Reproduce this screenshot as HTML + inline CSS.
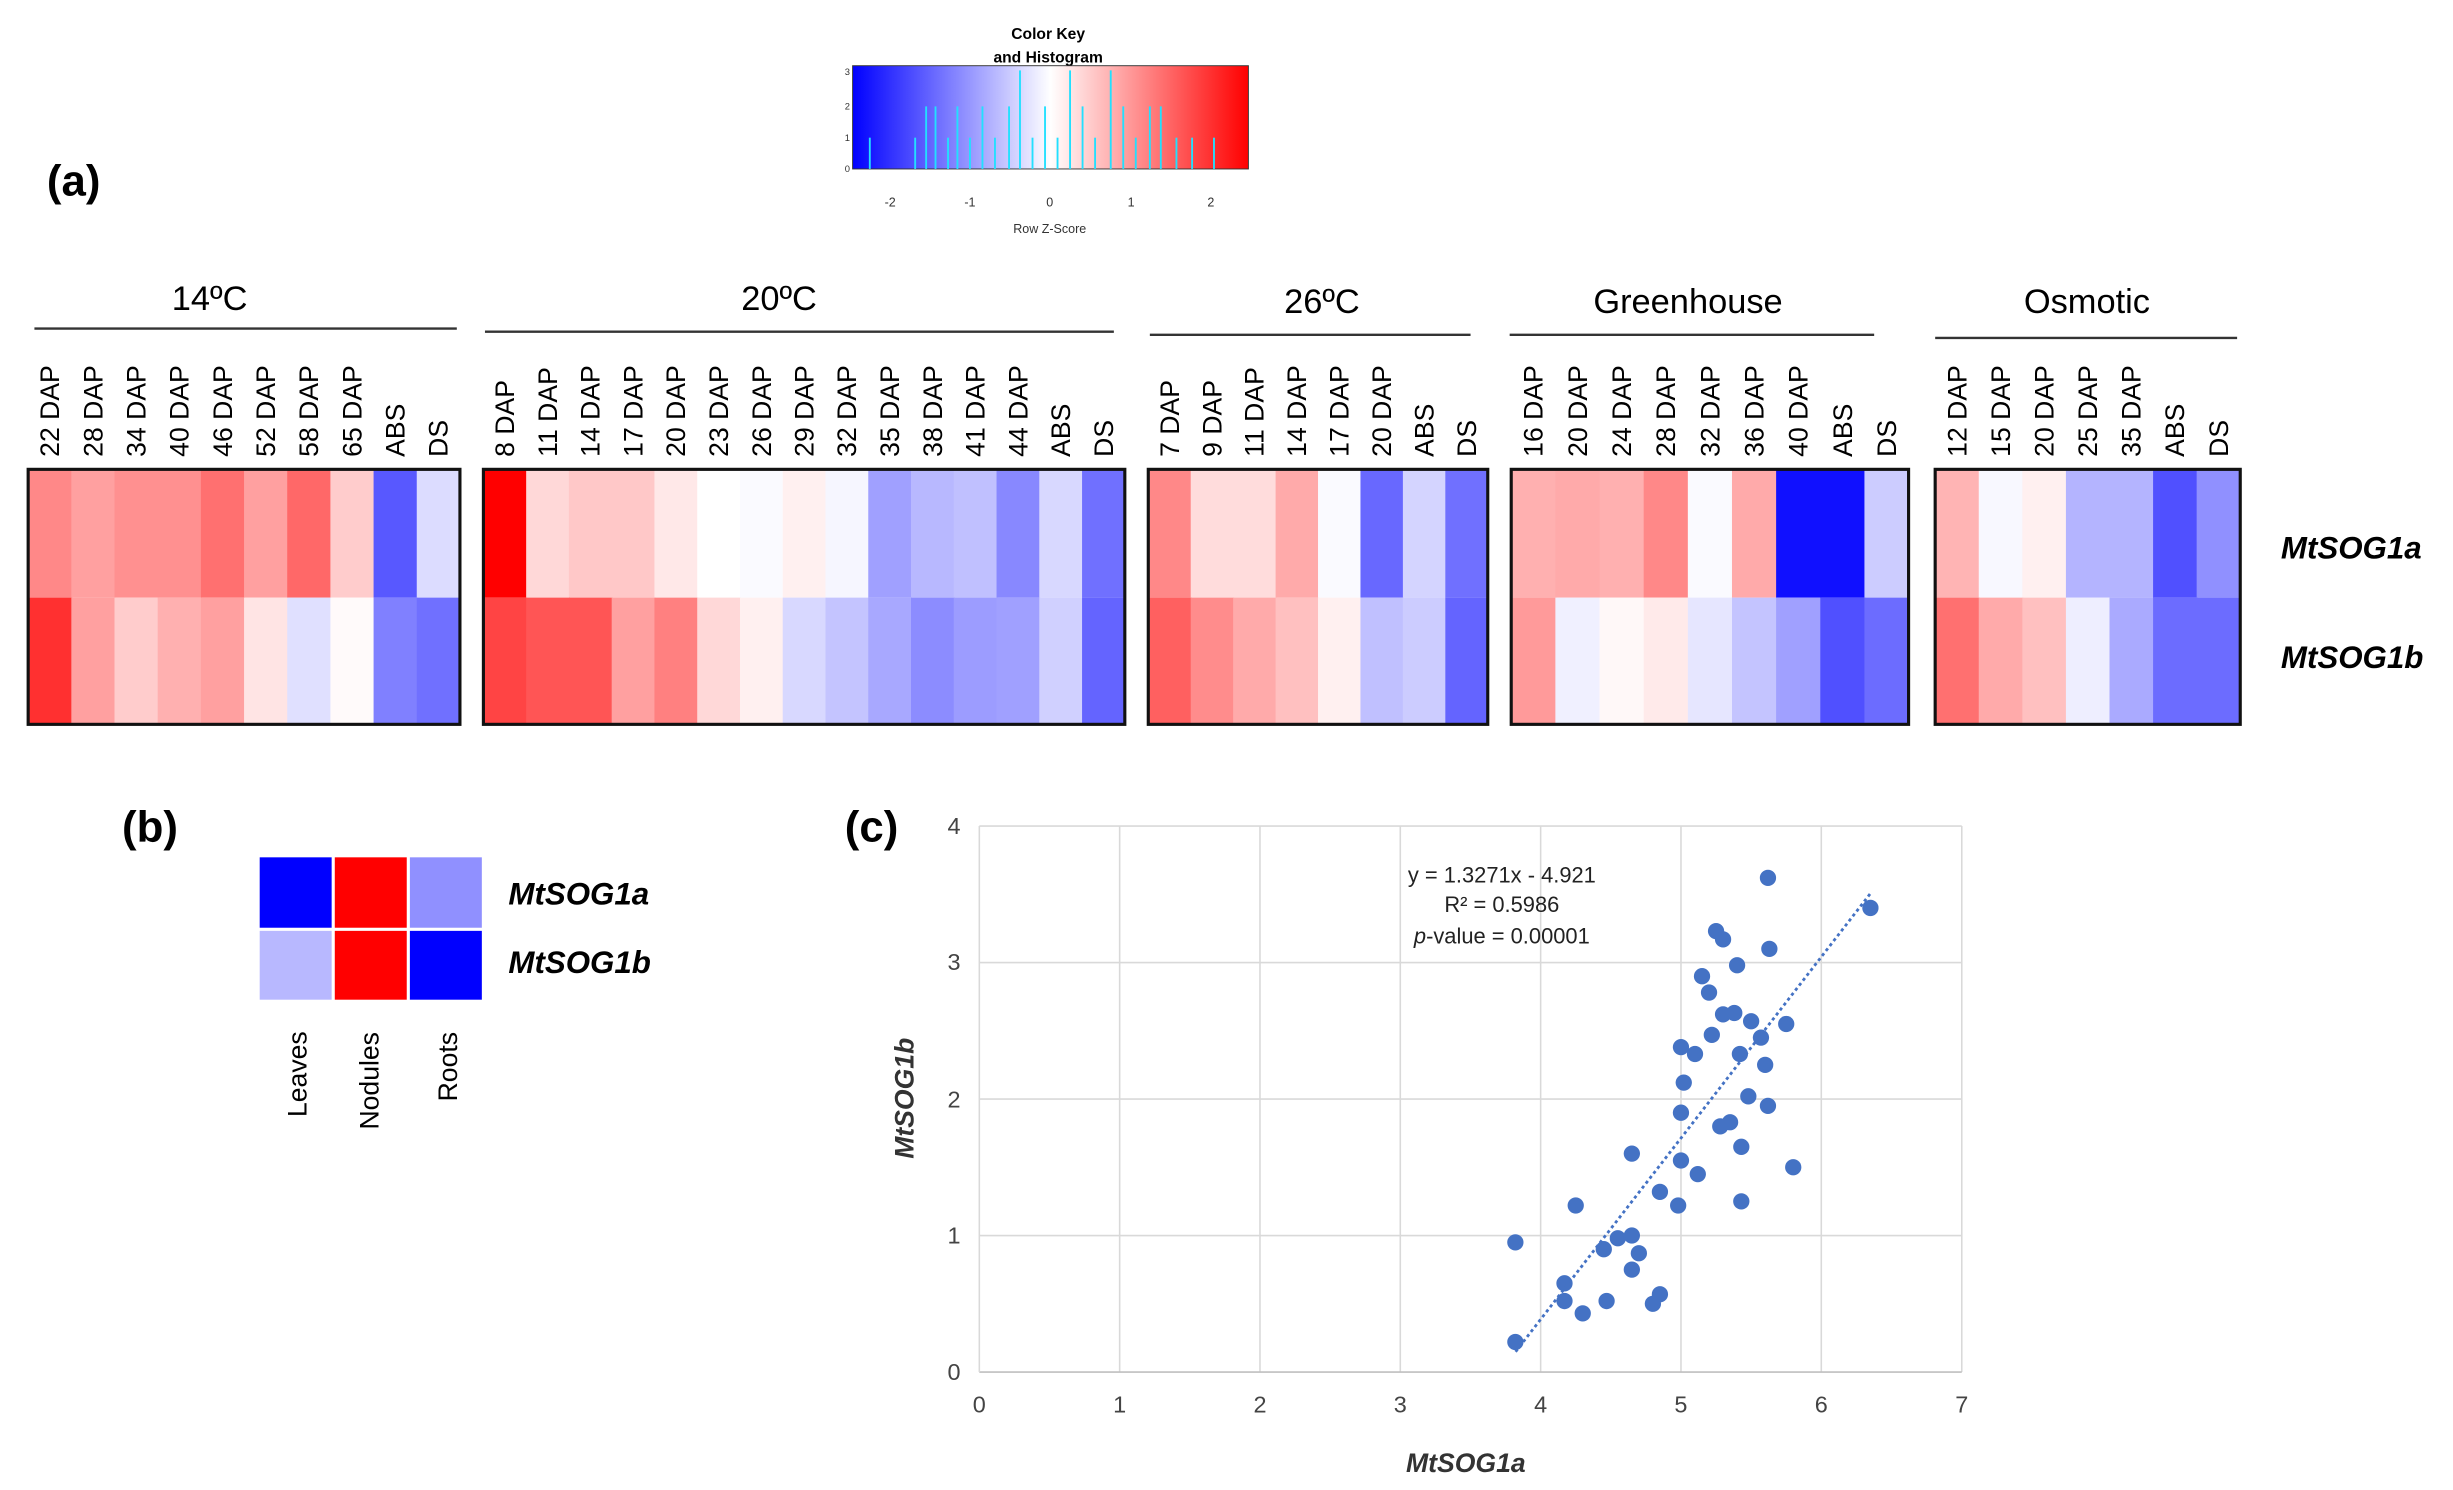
<!DOCTYPE html>
<html><head><meta charset="utf-8"><style>html,body{margin:0;padding:0;background:#fff}svg{display:block}text{font-family:"Liberation Sans",sans-serif}</style></head>
<body>
<svg width="2453" height="1490" viewBox="0 0 1568 952.4" preserveAspectRatio="none" xmlns="http://www.w3.org/2000/svg">
<defs>
<linearGradient id="ck" x1="0" x2="1"><stop offset="0" stop-color="#0000ff"/><stop offset="0.5" stop-color="#ffffff"/><stop offset="1" stop-color="#ff0000"/></linearGradient>
</defs>
<text x="670" y="25" font-size="10" font-weight="bold" text-anchor="middle">Color Key</text>
<text x="670" y="40" font-size="10" font-weight="bold" text-anchor="middle">and Histogram</text>
<rect x="545" y="42" width="253" height="66" fill="url(#ck)" stroke="#333" stroke-width="0.6"/>
<g stroke="#22e0ff" stroke-width="1.2">
<line x1="556" y1="108" x2="556" y2="88"/><line x1="585" y1="108" x2="585" y2="88"/><line x1="592" y1="108" x2="592" y2="68"/><line x1="598" y1="108" x2="598" y2="68"/><line x1="606" y1="108" x2="606" y2="88"/><line x1="612" y1="108" x2="612" y2="68"/><line x1="620" y1="108" x2="620" y2="88"/><line x1="628" y1="108" x2="628" y2="68"/><line x1="636" y1="108" x2="636" y2="88"/><line x1="645" y1="108" x2="645" y2="68"/><line x1="652" y1="108" x2="652" y2="45"/><line x1="660" y1="108" x2="660" y2="88"/><line x1="668" y1="108" x2="668" y2="68"/><line x1="676" y1="108" x2="676" y2="88"/><line x1="684" y1="108" x2="684" y2="45"/><line x1="692" y1="108" x2="692" y2="68"/><line x1="700" y1="108" x2="700" y2="88"/><line x1="710" y1="108" x2="710" y2="45"/><line x1="718" y1="108" x2="718" y2="68"/><line x1="726" y1="108" x2="726" y2="88"/><line x1="735" y1="108" x2="735" y2="68"/><line x1="742" y1="108" x2="742" y2="68"/><line x1="752" y1="108" x2="752" y2="88"/><line x1="762" y1="108" x2="762" y2="88"/><line x1="776" y1="108" x2="776" y2="88"/>
</g>
<g font-size="8" text-anchor="middle" fill="#333"><text x="569" y="132">-2</text><text x="620" y="132">-1</text><text x="671" y="132">0</text><text x="723" y="132">1</text><text x="774" y="132">2</text><text x="671" y="149">Row Z-Score</text></g>
<g font-size="6" fill="#333"><text x="540" y="110">0</text><text x="540" y="90">1</text><text x="540" y="70">2</text><text x="540" y="48">3</text></g>
<text x="30" y="125" font-size="28" font-weight="bold">(a)</text>
<text x="78" y="538" font-size="28" font-weight="bold">(b)</text>
<text x="540" y="538" font-size="28" font-weight="bold">(c)</text>
<g font-size="22" text-anchor="middle"><text x="134" y="198">14ºC</text><text x="498" y="198">20ºC</text><text x="845" y="200">26ºC</text><text x="1079" y="200">Greenhouse</text><text x="1334" y="200">Osmotic</text></g>
<g stroke="#333" stroke-width="1.5"><line x1="22" y1="210" x2="292" y2="210"/><line x1="310" y1="212" x2="712" y2="212"/><line x1="735" y1="214" x2="940" y2="214"/><line x1="965" y1="214" x2="1198" y2="214"/><line x1="1237" y1="216" x2="1430" y2="216"/></g>

<g>
<rect x="18" y="300" width="28.2" height="82" fill="#ff8888"/><rect x="18" y="382" width="28.2" height="81" fill="#ff3030"/>
<rect x="45.6" y="300" width="28.2" height="82" fill="#ffa0a0"/><rect x="45.6" y="382" width="28.2" height="81" fill="#ffa0a0"/>
<rect x="73.2" y="300" width="28.2" height="82" fill="#ff9090"/><rect x="73.2" y="382" width="28.2" height="81" fill="#ffcccc"/>
<rect x="100.8" y="300" width="28.2" height="82" fill="#ff9090"/><rect x="100.8" y="382" width="28.2" height="81" fill="#ffb0b0"/>
<rect x="128.4" y="300" width="28.2" height="82" fill="#ff7070"/><rect x="128.4" y="382" width="28.2" height="81" fill="#ffa0a0"/>
<rect x="156" y="300" width="28.2" height="82" fill="#ffa0a0"/><rect x="156" y="382" width="28.2" height="81" fill="#ffe4e4"/>
<rect x="183.6" y="300" width="28.2" height="82" fill="#ff6868"/><rect x="183.6" y="382" width="28.2" height="81" fill="#e0e0ff"/>
<rect x="211.2" y="300" width="28.2" height="82" fill="#ffcccc"/><rect x="211.2" y="382" width="28.2" height="81" fill="#fffafa"/>
<rect x="238.8" y="300" width="28.2" height="82" fill="#5858ff"/><rect x="238.8" y="382" width="28.2" height="81" fill="#8080ff"/>
<rect x="266.4" y="300" width="27.6" height="82" fill="#dcdcff"/><rect x="266.4" y="382" width="27.6" height="81" fill="#7070ff"/>
<rect x="18" y="300" width="276" height="163" fill="none" stroke="#111" stroke-width="2"/>
</g>
<g font-size="17">
<text transform="translate(37.8,292) rotate(-90)">22 DAP</text><text transform="translate(65.4,292) rotate(-90)">28 DAP</text><text transform="translate(93,292) rotate(-90)">34 DAP</text><text transform="translate(120.6,292) rotate(-90)">40 DAP</text><text transform="translate(148.2,292) rotate(-90)">46 DAP</text><text transform="translate(175.8,292) rotate(-90)">52 DAP</text><text transform="translate(203.4,292) rotate(-90)">58 DAP</text><text transform="translate(231,292) rotate(-90)">65 DAP</text><text transform="translate(258.6,292) rotate(-90)">ABS</text><text transform="translate(286.2,292) rotate(-90)">DS</text>
</g>

<g>
<rect x="309" y="300" width="28" height="82" fill="#ff0000"/><rect x="309" y="382" width="28" height="81" fill="#ff4444"/>
<rect x="336.33" y="300" width="28" height="82" fill="#ffd8d8"/><rect x="336.33" y="382" width="28" height="81" fill="#ff5555"/>
<rect x="363.67" y="300" width="28" height="82" fill="#ffc8c8"/><rect x="363.67" y="382" width="28" height="81" fill="#ff5555"/>
<rect x="391" y="300" width="28" height="82" fill="#ffc8c8"/><rect x="391" y="382" width="28" height="81" fill="#ffa0a0"/>
<rect x="418.33" y="300" width="28" height="82" fill="#ffe8e8"/><rect x="418.33" y="382" width="28" height="81" fill="#ff8080"/>
<rect x="445.67" y="300" width="28" height="82" fill="#ffffff"/><rect x="445.67" y="382" width="28" height="81" fill="#ffd8d8"/>
<rect x="473" y="300" width="28" height="82" fill="#fafaff"/><rect x="473" y="382" width="28" height="81" fill="#fff0f0"/>
<rect x="500.33" y="300" width="28" height="82" fill="#fff0f0"/><rect x="500.33" y="382" width="28" height="81" fill="#d8d8ff"/>
<rect x="527.67" y="300" width="28" height="82" fill="#f6f6ff"/><rect x="527.67" y="382" width="28" height="81" fill="#c4c4ff"/>
<rect x="555" y="300" width="28" height="82" fill="#a0a0ff"/><rect x="555" y="382" width="28" height="81" fill="#a8a8ff"/>
<rect x="582.33" y="300" width="28" height="82" fill="#b8b8ff"/><rect x="582.33" y="382" width="28" height="81" fill="#8c8cff"/>
<rect x="609.67" y="300" width="28" height="82" fill="#c0c0ff"/><rect x="609.67" y="382" width="28" height="81" fill="#9c9cff"/>
<rect x="637" y="300" width="28" height="82" fill="#8888ff"/><rect x="637" y="382" width="28" height="81" fill="#a0a0ff"/>
<rect x="664.33" y="300" width="28" height="82" fill="#d8d8ff"/><rect x="664.33" y="382" width="28" height="81" fill="#d0d0ff"/>
<rect x="691.67" y="300" width="27.33" height="82" fill="#7070ff"/><rect x="691.67" y="382" width="27.33" height="81" fill="#6464ff"/>
<rect x="309" y="300" width="410" height="163" fill="none" stroke="#111" stroke-width="2"/>
</g>
<g font-size="17">
<text transform="translate(328.7,292) rotate(-90)">8 DAP</text><text transform="translate(356,292) rotate(-90)">11 DAP</text><text transform="translate(383.3,292) rotate(-90)">14 DAP</text><text transform="translate(410.7,292) rotate(-90)">17 DAP</text><text transform="translate(438,292) rotate(-90)">20 DAP</text><text transform="translate(465.3,292) rotate(-90)">23 DAP</text><text transform="translate(492.7,292) rotate(-90)">26 DAP</text><text transform="translate(520,292) rotate(-90)">29 DAP</text><text transform="translate(547.3,292) rotate(-90)">32 DAP</text><text transform="translate(574.7,292) rotate(-90)">35 DAP</text><text transform="translate(602,292) rotate(-90)">38 DAP</text><text transform="translate(629.3,292) rotate(-90)">41 DAP</text><text transform="translate(656.7,292) rotate(-90)">44 DAP</text><text transform="translate(684,292) rotate(-90)">ABS</text><text transform="translate(711.3,292) rotate(-90)">DS</text>
</g>

<g>
<rect x="734" y="300" width="27.8" height="82" fill="#ff8888"/><rect x="734" y="382" width="27.8" height="81" fill="#ff6060"/>
<rect x="761.13" y="300" width="27.8" height="82" fill="#ffdcdc"/><rect x="761.13" y="382" width="27.8" height="81" fill="#ff8c8c"/>
<rect x="788.25" y="300" width="27.8" height="82" fill="#ffdcdc"/><rect x="788.25" y="382" width="27.8" height="81" fill="#ffaaaa"/>
<rect x="815.38" y="300" width="27.8" height="82" fill="#ffaaaa"/><rect x="815.38" y="382" width="27.8" height="81" fill="#ffc0c0"/>
<rect x="842.5" y="300" width="27.8" height="82" fill="#fafaff"/><rect x="842.5" y="382" width="27.8" height="81" fill="#fff0f0"/>
<rect x="869.63" y="300" width="27.8" height="82" fill="#6868ff"/><rect x="869.63" y="382" width="27.8" height="81" fill="#c0c0ff"/>
<rect x="896.75" y="300" width="27.8" height="82" fill="#d4d4ff"/><rect x="896.75" y="382" width="27.8" height="81" fill="#ccccff"/>
<rect x="923.88" y="300" width="27.12" height="82" fill="#7070ff"/><rect x="923.88" y="382" width="27.12" height="81" fill="#6464ff"/>
<rect x="734" y="300" width="217" height="163" fill="none" stroke="#111" stroke-width="2"/>
</g>
<g font-size="17">
<text transform="translate(753.6,292) rotate(-90)">7 DAP</text><text transform="translate(780.7,292) rotate(-90)">9 DAP</text><text transform="translate(807.8,292) rotate(-90)">11 DAP</text><text transform="translate(834.9,292) rotate(-90)">14 DAP</text><text transform="translate(862.1,292) rotate(-90)">17 DAP</text><text transform="translate(889.2,292) rotate(-90)">20 DAP</text><text transform="translate(916.3,292) rotate(-90)">ABS</text><text transform="translate(943.4,292) rotate(-90)">DS</text>
</g>

<g>
<rect x="966" y="300" width="28.9" height="82" fill="#ffb0b0"/><rect x="966" y="382" width="28.9" height="81" fill="#ff9a9a"/>
<rect x="994.22" y="300" width="28.9" height="82" fill="#ffaaaa"/><rect x="994.22" y="382" width="28.9" height="81" fill="#f0f0ff"/>
<rect x="1022.44" y="300" width="28.9" height="82" fill="#ffb0b0"/><rect x="1022.44" y="382" width="28.9" height="81" fill="#fff8f8"/>
<rect x="1050.67" y="300" width="28.9" height="82" fill="#ff8888"/><rect x="1050.67" y="382" width="28.9" height="81" fill="#ffeaea"/>
<rect x="1078.89" y="300" width="28.9" height="82" fill="#fafaff"/><rect x="1078.89" y="382" width="28.9" height="81" fill="#e6e6ff"/>
<rect x="1107.11" y="300" width="28.9" height="82" fill="#ffaaaa"/><rect x="1107.11" y="382" width="28.9" height="81" fill="#c4c4ff"/>
<rect x="1135.33" y="300" width="28.9" height="82" fill="#1010ff"/><rect x="1135.33" y="382" width="28.9" height="81" fill="#a0a0ff"/>
<rect x="1163.56" y="300" width="28.9" height="82" fill="#1010ff"/><rect x="1163.56" y="382" width="28.9" height="81" fill="#5050ff"/>
<rect x="1191.78" y="300" width="28.22" height="82" fill="#ccccff"/><rect x="1191.78" y="382" width="28.22" height="81" fill="#6c6cff"/>
<rect x="966" y="300" width="254" height="163" fill="none" stroke="#111" stroke-width="2"/>
</g>
<g font-size="17">
<text transform="translate(986.1,292) rotate(-90)">16 DAP</text><text transform="translate(1014.3,292) rotate(-90)">20 DAP</text><text transform="translate(1042.6,292) rotate(-90)">24 DAP</text><text transform="translate(1070.8,292) rotate(-90)">28 DAP</text><text transform="translate(1099,292) rotate(-90)">32 DAP</text><text transform="translate(1127.2,292) rotate(-90)">36 DAP</text><text transform="translate(1155.4,292) rotate(-90)">40 DAP</text><text transform="translate(1183.7,292) rotate(-90)">ABS</text><text transform="translate(1211.9,292) rotate(-90)">DS</text>
</g>

<g>
<rect x="1237" y="300" width="28.5" height="82" fill="#ffb4b4"/><rect x="1237" y="382" width="28.5" height="81" fill="#ff7070"/>
<rect x="1264.86" y="300" width="28.5" height="82" fill="#f8f8ff"/><rect x="1264.86" y="382" width="28.5" height="81" fill="#ffaaaa"/>
<rect x="1292.71" y="300" width="28.5" height="82" fill="#fff0f0"/><rect x="1292.71" y="382" width="28.5" height="81" fill="#ffc0c0"/>
<rect x="1320.57" y="300" width="28.5" height="82" fill="#b4b4ff"/><rect x="1320.57" y="382" width="28.5" height="81" fill="#eeeeff"/>
<rect x="1348.43" y="300" width="28.5" height="82" fill="#b4b4ff"/><rect x="1348.43" y="382" width="28.5" height="81" fill="#aaaaff"/>
<rect x="1376.29" y="300" width="28.5" height="82" fill="#5050ff"/><rect x="1376.29" y="382" width="28.5" height="81" fill="#6c6cff"/>
<rect x="1404.14" y="300" width="27.86" height="82" fill="#9090ff"/><rect x="1404.14" y="382" width="27.86" height="81" fill="#6c6cff"/>
<rect x="1237" y="300" width="195" height="163" fill="none" stroke="#111" stroke-width="2"/>
</g>
<g font-size="17">
<text transform="translate(1256.9,292) rotate(-90)">12 DAP</text><text transform="translate(1284.8,292) rotate(-90)">15 DAP</text><text transform="translate(1312.6,292) rotate(-90)">20 DAP</text><text transform="translate(1340.5,292) rotate(-90)">25 DAP</text><text transform="translate(1368.4,292) rotate(-90)">35 DAP</text><text transform="translate(1396.2,292) rotate(-90)">ABS</text><text transform="translate(1424.1,292) rotate(-90)">DS</text>
</g>

<text x="1458" y="357" font-size="20" font-weight="bold" font-style="italic">MtSOG1a</text>
<text x="1458" y="427" font-size="20" font-weight="bold" font-style="italic">MtSOG1b</text>

<rect x="166" y="548" width="46" height="45" fill="#0000ff"/><rect x="214" y="548" width="46" height="45" fill="#ff0000"/><rect x="262" y="548" width="46" height="45" fill="#9090ff"/>
<rect x="166" y="595" width="46" height="44" fill="#b8b8ff"/><rect x="214" y="595" width="46" height="44" fill="#ff0000"/><rect x="262" y="595" width="46" height="44" fill="#0000ff"/>
<text x="325" y="578" font-size="20" font-weight="bold" font-style="italic">MtSOG1a</text>
<text x="325" y="622" font-size="20" font-weight="bold" font-style="italic">MtSOG1b</text>
<g font-size="17"><text transform="translate(196,714) rotate(-90)">Leaves</text><text transform="translate(242,722) rotate(-90)">Nodules</text><text transform="translate(292,704) rotate(-90)">Roots</text></g>

<g stroke="#d9d9d9" stroke-width="1">
<line x1="626" y1="528" x2="1254" y2="528"/><line x1="626" y1="615.25" x2="1254" y2="615.25"/><line x1="626" y1="702.5" x2="1254" y2="702.5"/><line x1="626" y1="789.75" x2="1254" y2="789.75"/>
<line x1="715.7" y1="528" x2="715.7" y2="877"/><line x1="805.4" y1="528" x2="805.4" y2="877"/><line x1="895.1" y1="528" x2="895.1" y2="877"/><line x1="984.8" y1="528" x2="984.8" y2="877"/><line x1="1074.5" y1="528" x2="1074.5" y2="877"/><line x1="1164.2" y1="528" x2="1164.2" y2="877"/><line x1="1254" y1="528" x2="1254" y2="877"/>
</g>
<line x1="626" y1="877" x2="1254" y2="877" stroke="#bfbfbf"/><line x1="626" y1="528" x2="626" y2="877" stroke="#d9d9d9"/>
<g font-size="15" fill="#444" text-anchor="end"><text x="614" y="882">0</text><text x="614" y="795">1</text><text x="614" y="708">2</text><text x="614" y="620">3</text><text x="614" y="533">4</text></g>
<g font-size="15" fill="#444" text-anchor="middle"><text x="626" y="903">0</text><text x="715.7" y="903">1</text><text x="805.4" y="903">2</text><text x="895.1" y="903">3</text><text x="984.8" y="903">4</text><text x="1074.5" y="903">5</text><text x="1164.2" y="903">6</text><text x="1254" y="903">7</text></g>
<text x="937" y="941" font-size="17" font-weight="bold" font-style="italic" text-anchor="middle" fill="#333">MtSOG1a</text>
<text transform="translate(584,702) rotate(-90)" font-size="17" font-weight="bold" font-style="italic" text-anchor="middle" fill="#333">MtSOG1b</text>
<g font-size="14" text-anchor="middle" fill="#222"><text x="960" y="564">y = 1.3271x - 4.921</text><text x="960" y="583">R² = 0.5986</text><text x="960" y="603"><tspan font-style="italic">p</tspan>-value = 0.00001</text></g>
<g fill="#4472c4">
<circle cx="968.65" cy="794.11" r="5.2"/><circle cx="968.65" cy="857.8" r="5.2"/><circle cx="1000.05" cy="820.29" r="5.2"/><circle cx="1000.05" cy="831.63" r="5.2"/><circle cx="1007.23" cy="770.55" r="5.2"/><circle cx="1011.71" cy="839.48" r="5.2"/><circle cx="1025.17" cy="798.48" r="5.2"/><circle cx="1026.96" cy="831.63" r="5.2"/><circle cx="1034.14" cy="791.5" r="5.2"/><circle cx="1043.11" cy="789.75" r="5.2"/><circle cx="1043.11" cy="811.56" r="5.2"/><circle cx="1043.11" cy="737.4" r="5.2"/><circle cx="1047.59" cy="801.09" r="5.2"/><circle cx="1056.56" cy="833.38" r="5.2"/><circle cx="1061.05" cy="827.27" r="5.2"/><circle cx="1061.05" cy="761.83" r="5.2"/><circle cx="1072.71" cy="770.55" r="5.2"/><circle cx="1074.5" cy="741.76" r="5.2"/><circle cx="1074.5" cy="711.23" r="5.2"/><circle cx="1074.5" cy="669.35" r="5.2"/><circle cx="1076.29" cy="692.03" r="5.2"/><circle cx="1083.47" cy="673.7" r="5.2"/><circle cx="1085.26" cy="750.49" r="5.2"/><circle cx="1087.96" cy="623.98" r="5.2"/><circle cx="1092.44" cy="634.44" r="5.2"/><circle cx="1094.23" cy="661.49" r="5.2"/><circle cx="1096.93" cy="595.18" r="5.2"/><circle cx="1099.62" cy="719.95" r="5.2"/><circle cx="1101.41" cy="648.41" r="5.2"/><circle cx="1101.41" cy="600.42" r="5.2"/><circle cx="1105.9" cy="717.33" r="5.2"/><circle cx="1108.59" cy="647.53" r="5.2"/><circle cx="1110.38" cy="617" r="5.2"/><circle cx="1112.17" cy="673.7" r="5.2"/><circle cx="1113.07" cy="733.04" r="5.2"/><circle cx="1113.07" cy="767.94" r="5.2"/><circle cx="1117.56" cy="700.76" r="5.2"/><circle cx="1119.35" cy="652.77" r="5.2"/><circle cx="1125.63" cy="663.24" r="5.2"/><circle cx="1128.32" cy="680.69" r="5.2"/><circle cx="1130.11" cy="561.15" r="5.2"/><circle cx="1130.11" cy="706.86" r="5.2"/><circle cx="1131.01" cy="606.53" r="5.2"/><circle cx="1141.78" cy="654.51" r="5.2"/><circle cx="1146.26" cy="746.13" r="5.2"/><circle cx="1195.6" cy="580.35" r="5.2"/>
</g>
<line x1="968.8" y1="864" x2="1195.6" y2="571.1" stroke="#4472c4" stroke-width="1.8" stroke-dasharray="2,2"/>
</svg>
</body></html>
